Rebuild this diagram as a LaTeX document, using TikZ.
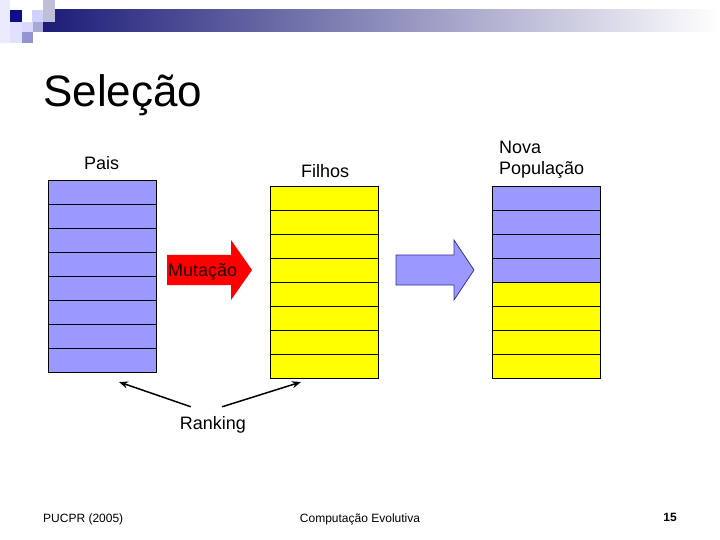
\documentclass[tikz,border=0pt]{standalone}
\usepackage{fontspec}
\setmainfont{Liberation Sans}
\usepackage{xcolor}
\usetikzlibrary{arrows.meta, positioning}
\definecolor{paisblue}{HTML}{9999FF}
\definecolor{filhoyellow}{HTML}{FFFF00}
\definecolor{barnavy}{HTML}{1C1C78}
\definecolor{arrowedge}{HTML}{333399}
\tikzset{
  cell/.style={draw, line width=0.75bp, minimum width=108bp, minimum height=24bp, inner sep=0pt},
  label/.style={font=\fontsize{18bp}{21.6bp}\selectfont, inner sep=0pt, align=left},
  foot/.style={font=\fontsize{12bp}{14bp}\selectfont, inner sep=0pt},
  rankarrow/.style={line width=1.5bp, -{Stealth[length=9bp, width=7bp]}}
}

\begin{document}
\begin{tikzpicture}[x=1bp, y=-1bp]
\useasboundingbox (0,0) rectangle (720,540);
\fill[white] (0,0) rectangle (720,540);
% header bar
\shade[left color=barnavy, right color=white] (43,10) rectangle (720,32);
\fill[black!4!blue!8] (0,0) rectangle (10,43);
\fill[blue!12] (10,22) rectangle (22,43);
\fill[barnavy!60!blue!80!black] (10,10) rectangle (22,22);
\fill[blue!18] (32,10) rectangle (43,22);
\fill[blue!25!gray!40] (43,0) rectangle (55,22);
\fill[blue!15] (22,22) rectangle (33,32);
\fill[blue!35!gray!50] (33,22) rectangle (43,32);
\fill[blue!40!gray!60] (22,32) rectangle (33,43);

\node[font=\fontsize{44bp}{50bp}\selectfont, inner sep=0pt, anchor=base west] (title) at (43,107) {Seleção};

% columns
\foreach \i in {0,...,7}
  \node[cell, fill=paisblue] (p\i) at (102,192+24*\i) {};
\foreach \i in {0,...,7}
  \node[cell, fill=filhoyellow] (f\i) at (324,198+24*\i) {};
\foreach \i in {0,...,3}
  \node[cell, fill=paisblue] (n\i) at (546,198+24*\i) {};
\foreach \i in {4,...,7}
  \node[cell, fill=filhoyellow] (n\i) at (546,198+24*\i) {};

\node[label, anchor=base west] (pais) at (84,170) {Pais};
\node[label, anchor=base west] (filhos) at (301,178) {Filhos};
\node[label, anchor=base west] (nova) at (499,175) {Nova\\População};

% arrows
\fill[red] (167,255) -- (231,255) -- (231,240) -- (252,270) -- (231,300) -- (231,285) -- (167,285) -- cycle;
\node[label, anchor=base west, text=black!85!red] (mutacao) at (168,277) {Mutação};
\filldraw[fill=paisblue, draw=arrowedge, line width=0.75bp] (396,255) -- (454,255) -- (454,240) -- (474,270) -- (454,300) -- (454,285) -- (396,285) -- cycle;

\node[label, anchor=base] (ranking) at (213,429) {Ranking};
\coordinate (paistip) at (119,382);
\coordinate (filhostip) at (301,382);
\draw[rankarrow] ([xshift=11bp, yshift=9bp]ranking.north west) -- (paistip);
\draw[rankarrow] ([xshift=-24bp, yshift=9bp]ranking.north east) -- (filhostip);

% footer
\node[foot, anchor=base west] (pucpr) at (43,522) {PUCPR (2005)};
\node[foot, anchor=base] (curso) at (360,522) {Computação Evolutiva};
\node[foot, anchor=base east, font=\fontsize{12bp}{14bp}\selectfont\bfseries] (page) at (677,521) {15};
\end{tikzpicture}
\end{document}
